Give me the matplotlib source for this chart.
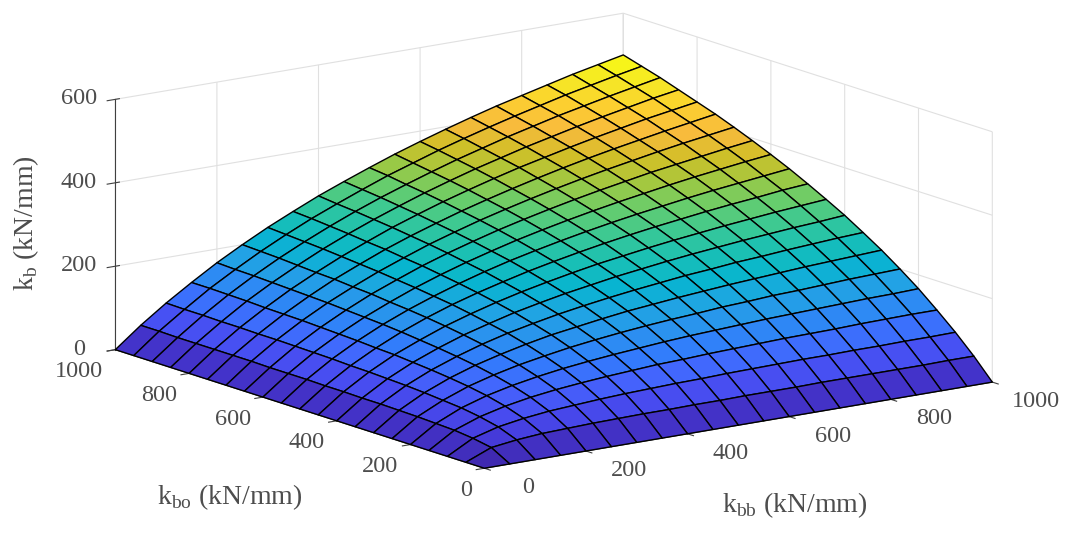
import numpy as np
import matplotlib
matplotlib.use('Agg')
import matplotlib.pyplot as plt
from matplotlib.colors import LinearSegmentedColormap

# grid of the two stiffnesses (kN/mm)
k_bb = [0, 50, 100, 150, 200, 250, 300, 350, 400, 450, 500,
        550, 600, 650, 700, 750, 800, 850, 900, 950, 1000]
k_bo = [0, 50, 100, 150, 200, 250, 300, 350, 400, 450, 500,
        550, 600, 650, 700, 750, 800, 850, 900, 950, 1000]

# k_b values, rows = k_bo, columns = k_bb
k_b = [
    [0, 0, 0, 0, 0, 0, 0, 0, 0, 0, 0, 0, 0, 0, 0, 0, 0, 0, 0, 0, 0],
    [0, 25, 33, 38, 40, 42, 43, 44, 44, 45, 45, 46, 46, 46, 47, 47, 47, 47, 47, 48, 48],
    [0, 33, 50, 60, 67, 71, 75, 78, 80, 82, 83, 85, 86, 87, 88, 88, 89, 89, 90, 90, 91],
    [0, 38, 60, 75, 86, 94, 100, 105, 109, 113, 115, 118, 120, 122, 124, 125, 126, 128, 129, 130, 130],
    [0, 40, 67, 86, 100, 111, 120, 127, 133, 138, 143, 147, 150, 153, 156, 158, 160, 162, 164, 165, 167],
    [0, 42, 71, 94, 111, 125, 136, 146, 154, 161, 167, 172, 176, 181, 184, 188, 190, 193, 196, 198, 200],
    [0, 43, 75, 100, 120, 136, 150, 162, 171, 180, 188, 194, 200, 205, 210, 214, 218, 222, 225, 228, 231],
    [0, 44, 78, 105, 127, 146, 162, 175, 187, 197, 206, 214, 221, 228, 233, 239, 243, 248, 252, 256, 259],
    [0, 44, 80, 109, 133, 154, 171, 187, 200, 212, 222, 232, 240, 248, 255, 261, 267, 272, 277, 281, 286],
    [0, 45, 82, 113, 138, 161, 180, 197, 212, 225, 237, 248, 257, 266, 274, 281, 288, 294, 300, 305, 310],
    [0, 45, 83, 115, 143, 167, 188, 206, 222, 237, 250, 262, 273, 283, 292, 300, 308, 315, 321, 328, 333],
    [0, 46, 85, 118, 147, 172, 194, 214, 232, 248, 262, 275, 287, 298, 308, 317, 326, 334, 341, 348, 355],
    [0, 46, 86, 120, 150, 176, 200, 221, 240, 257, 273, 287, 300, 312, 323, 333, 343, 352, 360, 368, 375],
    [0, 46, 87, 122, 153, 181, 205, 228, 248, 266, 283, 298, 312, 325, 337, 348, 359, 368, 377, 386, 394],
    [0, 47, 88, 124, 156, 184, 210, 233, 255, 274, 292, 308, 323, 337, 350, 362, 373, 384, 394, 403, 412],
    [0, 47, 88, 125, 158, 188, 214, 239, 261, 281, 300, 317, 333, 348, 362, 375, 387, 398, 409, 419, 429],
    [0, 47, 89, 126, 160, 190, 218, 243, 267, 288, 308, 326, 343, 359, 373, 387, 400, 412, 424, 434, 444],
    [0, 47, 89, 128, 162, 193, 222, 248, 272, 294, 315, 334, 352, 368, 384, 398, 412, 425, 437, 449, 459],
    [0, 47, 90, 129, 164, 196, 225, 252, 277, 300, 321, 341, 360, 377, 394, 409, 424, 437, 450, 462, 474],
    [0, 48, 90, 130, 165, 198, 228, 256, 281, 305, 328, 348, 368, 386, 403, 419, 434, 449, 462, 475, 487],
    [0, 48, 91, 130, 167, 200, 231, 259, 286, 310, 333, 355, 375, 394, 412, 429, 444, 459, 474, 487, 500],
]

ticks_xy = [0, 200, 400, 600, 800, 1000]
ticks_z = [0, 200, 400, 600]

# parula-like colormap
parula = LinearSegmentedColormap.from_list('parula', [
    (0.2422, 0.1504, 0.6603), (0.2706, 0.2147, 0.8364), (0.2813, 0.3006, 0.9414),
    (0.2699, 0.3892, 0.9906), (0.1963, 0.4847, 0.9892), (0.1687, 0.5703, 0.9359),
    (0.1248, 0.6459, 0.8883), (0.0297, 0.7082, 0.8163), (0.0964, 0.7500, 0.7120),
    (0.2161, 0.7843, 0.5923), (0.3909, 0.8029, 0.4354), (0.6174, 0.7876, 0.2612),
    (0.8203, 0.7498, 0.1535), (0.9728, 0.7298, 0.2394), (0.9892, 0.8136, 0.1885),
    (0.9597, 0.9135, 0.1423), (0.9769, 0.9839, 0.0805)])

plt.rcParams['font.family'] = 'Liberation Serif'
plt.rcParams['mathtext.fontset'] = 'custom'
plt.rcParams['mathtext.rm'] = 'Liberation Serif'

X, Y = np.meshgrid(k_bb, k_bo)
Z = np.array(k_b, dtype=float)

fig = plt.figure(figsize=(10.74, 5.4), dpi=100)
ax = fig.add_axes([0.0075, -0.062, 1.0, 1.2], projection='3d', proj_type='ortho')
surf = ax.plot_surface(X, Y, Z, cmap=parula, vmin=0, vmax=500, rstride=1, cstride=1,
                       edgecolor='black', linewidth=1.0, antialiased=True)
surf.set_clip_on(False)

ax.view_init(elev=13.5, azim=-126)
ax.set_box_aspect((1, 1, 0.41), zoom=1.385)
ax.set_xlim(0, 1000)
ax.set_ylim(0, 1000)
ax.set_zlim(0, 600)
ax.set_xticks(ticks_xy)
ax.set_yticks(ticks_xy)
ax.set_zticks(ticks_z)

for axis in (ax.xaxis, ax.yaxis, ax.zaxis):
    axis.set_pane_color((1, 1, 1, 0))
    axis.pane.set_edgecolor('0.85')
    axis._axinfo['grid']['color'] = '0.88'
    axis._axinfo['grid']['linewidth'] = 0.8
    axis._axinfo['axisline']['color'] = '0.25'
    axis._axinfo['tick']['color'] = '0.25'
    axis.line.set_color('0.25')
    axis.set_tick_params(labelsize=17.5, colors='0.25', labelcolor='none')

# place tick labels MATLAB-style: take matplotlib's label anchors and nudge them
fig.canvas.draw()
for axis, ha, dx, dy in [(ax.xaxis, 'center', 26, -2),
                         (ax.yaxis, 'right', 12, -6),
                         (ax.zaxis, 'center', 5, -1)]:
    for tick in axis.get_major_ticks():
        tx, ty = tick.label1.get_position()
        ax.annotate(f'{tick.get_loc():g}', (tx, ty), xycoords='data',
                    xytext=(dx, dy), textcoords='offset pixels',
                    ha=ha, va='center', fontsize=17.5, color='0.3',
                    annotation_clip=False)

fig.text(0.024, 0.587, r'k$_{\mathrm{b}}$ (kN/mm)', rotation=90, fontsize=20,
         color='0.3', ha='center', va='center')
fig.text(0.214, 0.08, r'k$_{\mathrm{bo}}$ (kN/mm)', fontsize=20, color='0.3',
         ha='center', va='center')
fig.text(0.74, 0.065, r'k$_{\mathrm{bb}}$ (kN/mm)', fontsize=20, color='0.3',
         ha='center', va='center')

plt.savefig('out.png', dpi=100)
plt.close()
